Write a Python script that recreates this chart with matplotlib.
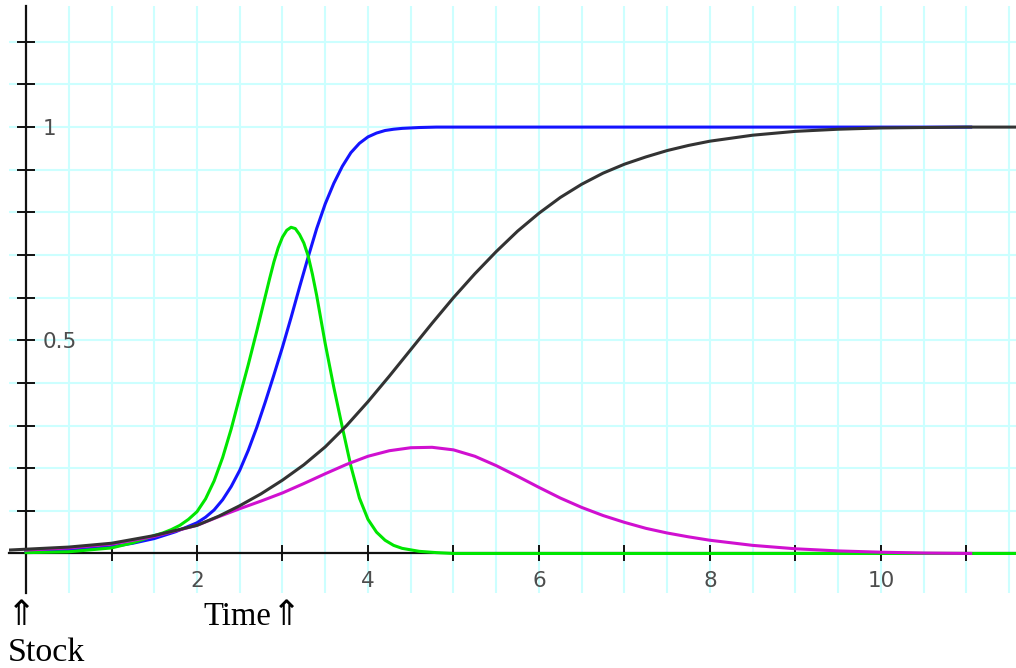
import numpy as np
import matplotlib
matplotlib.use("Agg")
import matplotlib.pyplot as plt

# valeurs
green_x = [0, 0.5, 1.0, 1.25, 1.5, 1.6, 1.7, 1.8, 1.9, 2.0, 2.1, 2.2, 2.3, 2.4, 2.5, 2.6,
           2.7, 2.8, 2.85, 2.9, 2.95, 3.0, 3.05, 3.1, 3.15, 3.2, 3.25, 3.3, 3.35, 3.4,
           3.5, 3.6, 3.7, 3.8, 3.9, 4.0, 4.1, 4.2, 4.3, 4.4, 4.6, 4.8, 5.0, 11.6]
green_y = [0.002, 0.004, 0.013, 0.025, 0.042, 0.048, 0.056, 0.066, 0.08, 0.098, 0.128,
           0.17, 0.225, 0.292, 0.368, 0.443, 0.522, 0.604, 0.645, 0.684, 0.717, 0.742,
           0.758, 0.765, 0.762, 0.748, 0.728, 0.698, 0.655, 0.605, 0.492, 0.39, 0.296,
           0.205, 0.13, 0.08, 0.05, 0.031, 0.019, 0.012, 0.005, 0.002, 0.0, 0.0]

blue_x = [0, 0.5, 1.0, 1.25, 1.5, 1.75, 2.0, 2.1, 2.2, 2.3, 2.4, 2.5, 2.6, 2.7, 2.8, 2.9,
          3.0, 3.1, 3.2, 3.3, 3.4, 3.5, 3.6, 3.7, 3.8, 3.9, 4.0, 4.1, 4.2, 4.3, 4.4, 4.6,
          4.8, 5.0, 11.05]
blue_y = [0.005, 0.008, 0.016, 0.024, 0.035, 0.051, 0.072, 0.085, 0.102, 0.126, 0.157,
          0.195, 0.242, 0.296, 0.356, 0.419, 0.484, 0.553, 0.625, 0.695, 0.762, 0.82,
          0.868, 0.908, 0.94, 0.962, 0.977, 0.986, 0.992, 0.995, 0.997, 0.999, 1.0, 1.0,
          1.0]

black_x = [-0.2, 0, 0.5, 1.0, 1.5, 2.0, 2.25, 2.5, 2.75, 3.0, 3.25, 3.5, 3.75, 4.0, 4.25,
           4.5, 4.75, 5.0, 5.25, 5.5, 5.75, 6.0, 6.25, 6.5, 6.75, 7.0, 7.25, 7.5, 7.75,
           8.0, 8.5, 9.0, 9.5, 10.0, 10.5, 11.0, 11.6]
black_y = [0.008, 0.010, 0.015, 0.024, 0.042, 0.066, 0.087, 0.112, 0.14, 0.172, 0.208,
           0.25, 0.3, 0.356, 0.416, 0.478, 0.54, 0.60, 0.656, 0.708, 0.756, 0.798, 0.835,
           0.866, 0.892, 0.913, 0.93, 0.945, 0.957, 0.967, 0.981, 0.99, 0.995, 0.998,
           0.999, 1.0, 1.0]

magenta_x = [0, 0.5, 1.0, 1.5, 2.0, 2.25, 2.5, 2.75, 3.0, 3.25, 3.5, 3.75, 4.0, 4.25, 4.5,
             4.75, 5.0, 5.25, 5.5, 5.75, 6.0, 6.25, 6.5, 6.75, 7.0, 7.25, 7.5, 7.75, 8.0,
             8.5, 9.0, 9.5, 10.0, 10.5, 11.05]
magenta_y = [0.008, 0.013, 0.022, 0.04, 0.066, 0.086, 0.105, 0.123, 0.142, 0.164, 0.187,
             0.209, 0.228, 0.241, 0.248, 0.249, 0.243, 0.228, 0.206, 0.181, 0.155, 0.13,
             0.108, 0.089, 0.073, 0.059, 0.048, 0.039, 0.031, 0.019, 0.011, 0.006, 0.003,
             0.001, 0.0]

x_ticks = list(range(1, 12))
x_labels = ["2", "4", "6", "8", "10"]
y_ticks = [round(0.1 * k, 1) for k in range(1, 13)]
y_labels = {0.5: "0.5", 1.0: "1"}

fig = plt.figure(figsize=(10.16, 6.68), dpi=100)
ax = fig.add_axes([9 / 1016, 75 / 668, 1007 / 1016, 587 / 668])
ax.set_xlim(-0.199, 11.58)
ax.set_ylim(-0.0927, 1.284)

# grille cyan
ax.set_xticks(x_ticks)
ax.set_xticks(np.arange(0.5, 11.6, 0.5), minor=True)
ax.set_yticks(y_ticks)
ax.grid(True, which="both", axis="x", color="#ccffff", lw=1.5, zorder=0)
ax.grid(True, which="major", axis="y", color="#ccffff", lw=1.5, zorder=0)
ax.set_axisbelow(True)

ax.set_xticklabels([str(t) if str(t) in x_labels else "" for t in x_ticks])
ax.set_yticklabels([y_labels.get(t, "") for t in y_ticks])

for s in ["top", "right"]:
    ax.spines[s].set_visible(False)
for s in ["left", "bottom"]:
    ax.spines[s].set_position(("data", 0))
    ax.spines[s].set_linewidth(1.6)
    ax.spines[s].set_color("#111111")
    ax.spines[s].set_zorder(1.5)

ax.tick_params(axis="x", which="major", direction="inout", length=12, width=1.4,
               color="#111111", pad=6.5, labelsize=15.5, labelcolor="#4d4d4d")
ax.tick_params(axis="x", which="minor", length=0)
ax.tick_params(axis="y", direction="inout", length=13, width=1.4, color="#111111",
               pad=-18.5, labelsize=15.5, labelcolor="#4d4d4d")
for lab in ax.get_yticklabels():
    lab.set_horizontalalignment("left")

ax.plot(blue_x, blue_y, color="#1414ff", lw=2.2, zorder=3)
ax.plot(green_x, green_y, color="#00e600", lw=2.2, zorder=3)
ax.plot(magenta_x, magenta_y, color="#d010d0", lw=2.2, zorder=3)
ax.plot(black_x, black_y, color="#333333", lw=2.2, zorder=3)

# textes sous le graphique
serif = ["Liberation Serif", "DejaVu Serif"]
arrow = ["DejaVu Sans"]
fig.text(7 / 1016, 1 - 625 / 668, "⇑", family=arrow, fontsize=25, va="baseline", ha="left")
fig.text(8 / 1016, 1 - 661 / 668, "Stock", family=serif, fontsize=24.5, va="baseline", ha="left")
fig.text(203 / 1016, 1 - 625 / 668, "Time", family=serif, fontsize=23.5, va="baseline", ha="left")
fig.text(272 / 1016, 1 - 625 / 668, "⇑", family=arrow, fontsize=25, va="baseline", ha="left")

fig.savefig("out.png", dpi=100)
